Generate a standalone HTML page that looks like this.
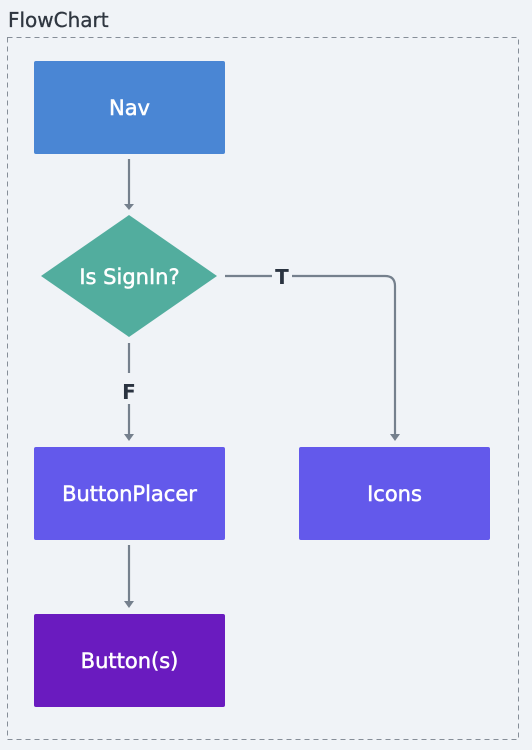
<!DOCTYPE html>
<html><head><style>
html,body{margin:0;padding:0;background:#f0f3f7;}
svg{display:block;}
text{font-family:"DejaVu Sans","Liberation Sans",sans-serif;}
.w{fill:#fff;stroke:#fff;stroke-width:0.5;}
</style></head><body>
<svg width="532" height="750" viewBox="0 0 532 750" xmlns="http://www.w3.org/2000/svg">
<rect width="532" height="750" fill="#f0f3f7"/>
<text x="8" y="27" font-size="20" fill="#2f3640" stroke="#2f3640" stroke-width="0.3">FlowChart</text>
<rect x="7.5" y="37.5" width="511" height="702" fill="none" stroke="#868e98" stroke-dasharray="5,4"/>
<rect x="34" y="61" width="191" height="93" rx="2" fill="#4a86d4"/>
<text class="w" x="129.5" y="115" font-size="21" text-anchor="middle">Nav</text>
<line x1="129" y1="159" x2="129" y2="205" stroke="#75808d" stroke-width="2.2"/>
<path d="M124,204 L134,204 L129,210 Z" fill="#75808d"/>
<polygon points="129,215 217,276 129,337 41,276" fill="#52ad9e"/>
<text class="w" x="129.5" y="284" font-size="21" text-anchor="middle">Is SignIn?</text>
<path d="M225,276 H272 M292,276 H385 Q395,276 395,286 V435" fill="none" stroke="#75808d" stroke-width="2.2"/>
<path d="M390,434 L400,434 L395,441 Z" fill="#75808d"/>
<text x="282" y="284" font-size="20" font-weight="bold" fill="#2a3340" text-anchor="middle">T</text>
<path d="M129,343 V373 M129,404 V435" fill="none" stroke="#75808d" stroke-width="2.2"/>
<path d="M124,434 L134,434 L129,441 Z" fill="#75808d"/>
<text x="129" y="399" font-size="20" font-weight="bold" fill="#2a3340" text-anchor="middle">F</text>
<rect x="34" y="447" width="191" height="93" rx="2" fill="#6359eb"/>
<text class="w" x="129.5" y="501" font-size="21" text-anchor="middle">ButtonPlacer</text>
<rect x="299" y="447" width="191" height="93" rx="2" fill="#6359eb"/>
<text class="w" x="394.5" y="501" font-size="21" text-anchor="middle">Icons</text>
<line x1="129" y1="545" x2="129" y2="602" stroke="#75808d" stroke-width="2.2"/>
<path d="M124,601 L134,601 L129,608 Z" fill="#75808d"/>
<rect x="34" y="614" width="191" height="93" rx="2" fill="#6a1bbf"/>
<text class="w" x="129.5" y="668" font-size="21" text-anchor="middle">Button(s)</text>
</svg>
</body></html>
